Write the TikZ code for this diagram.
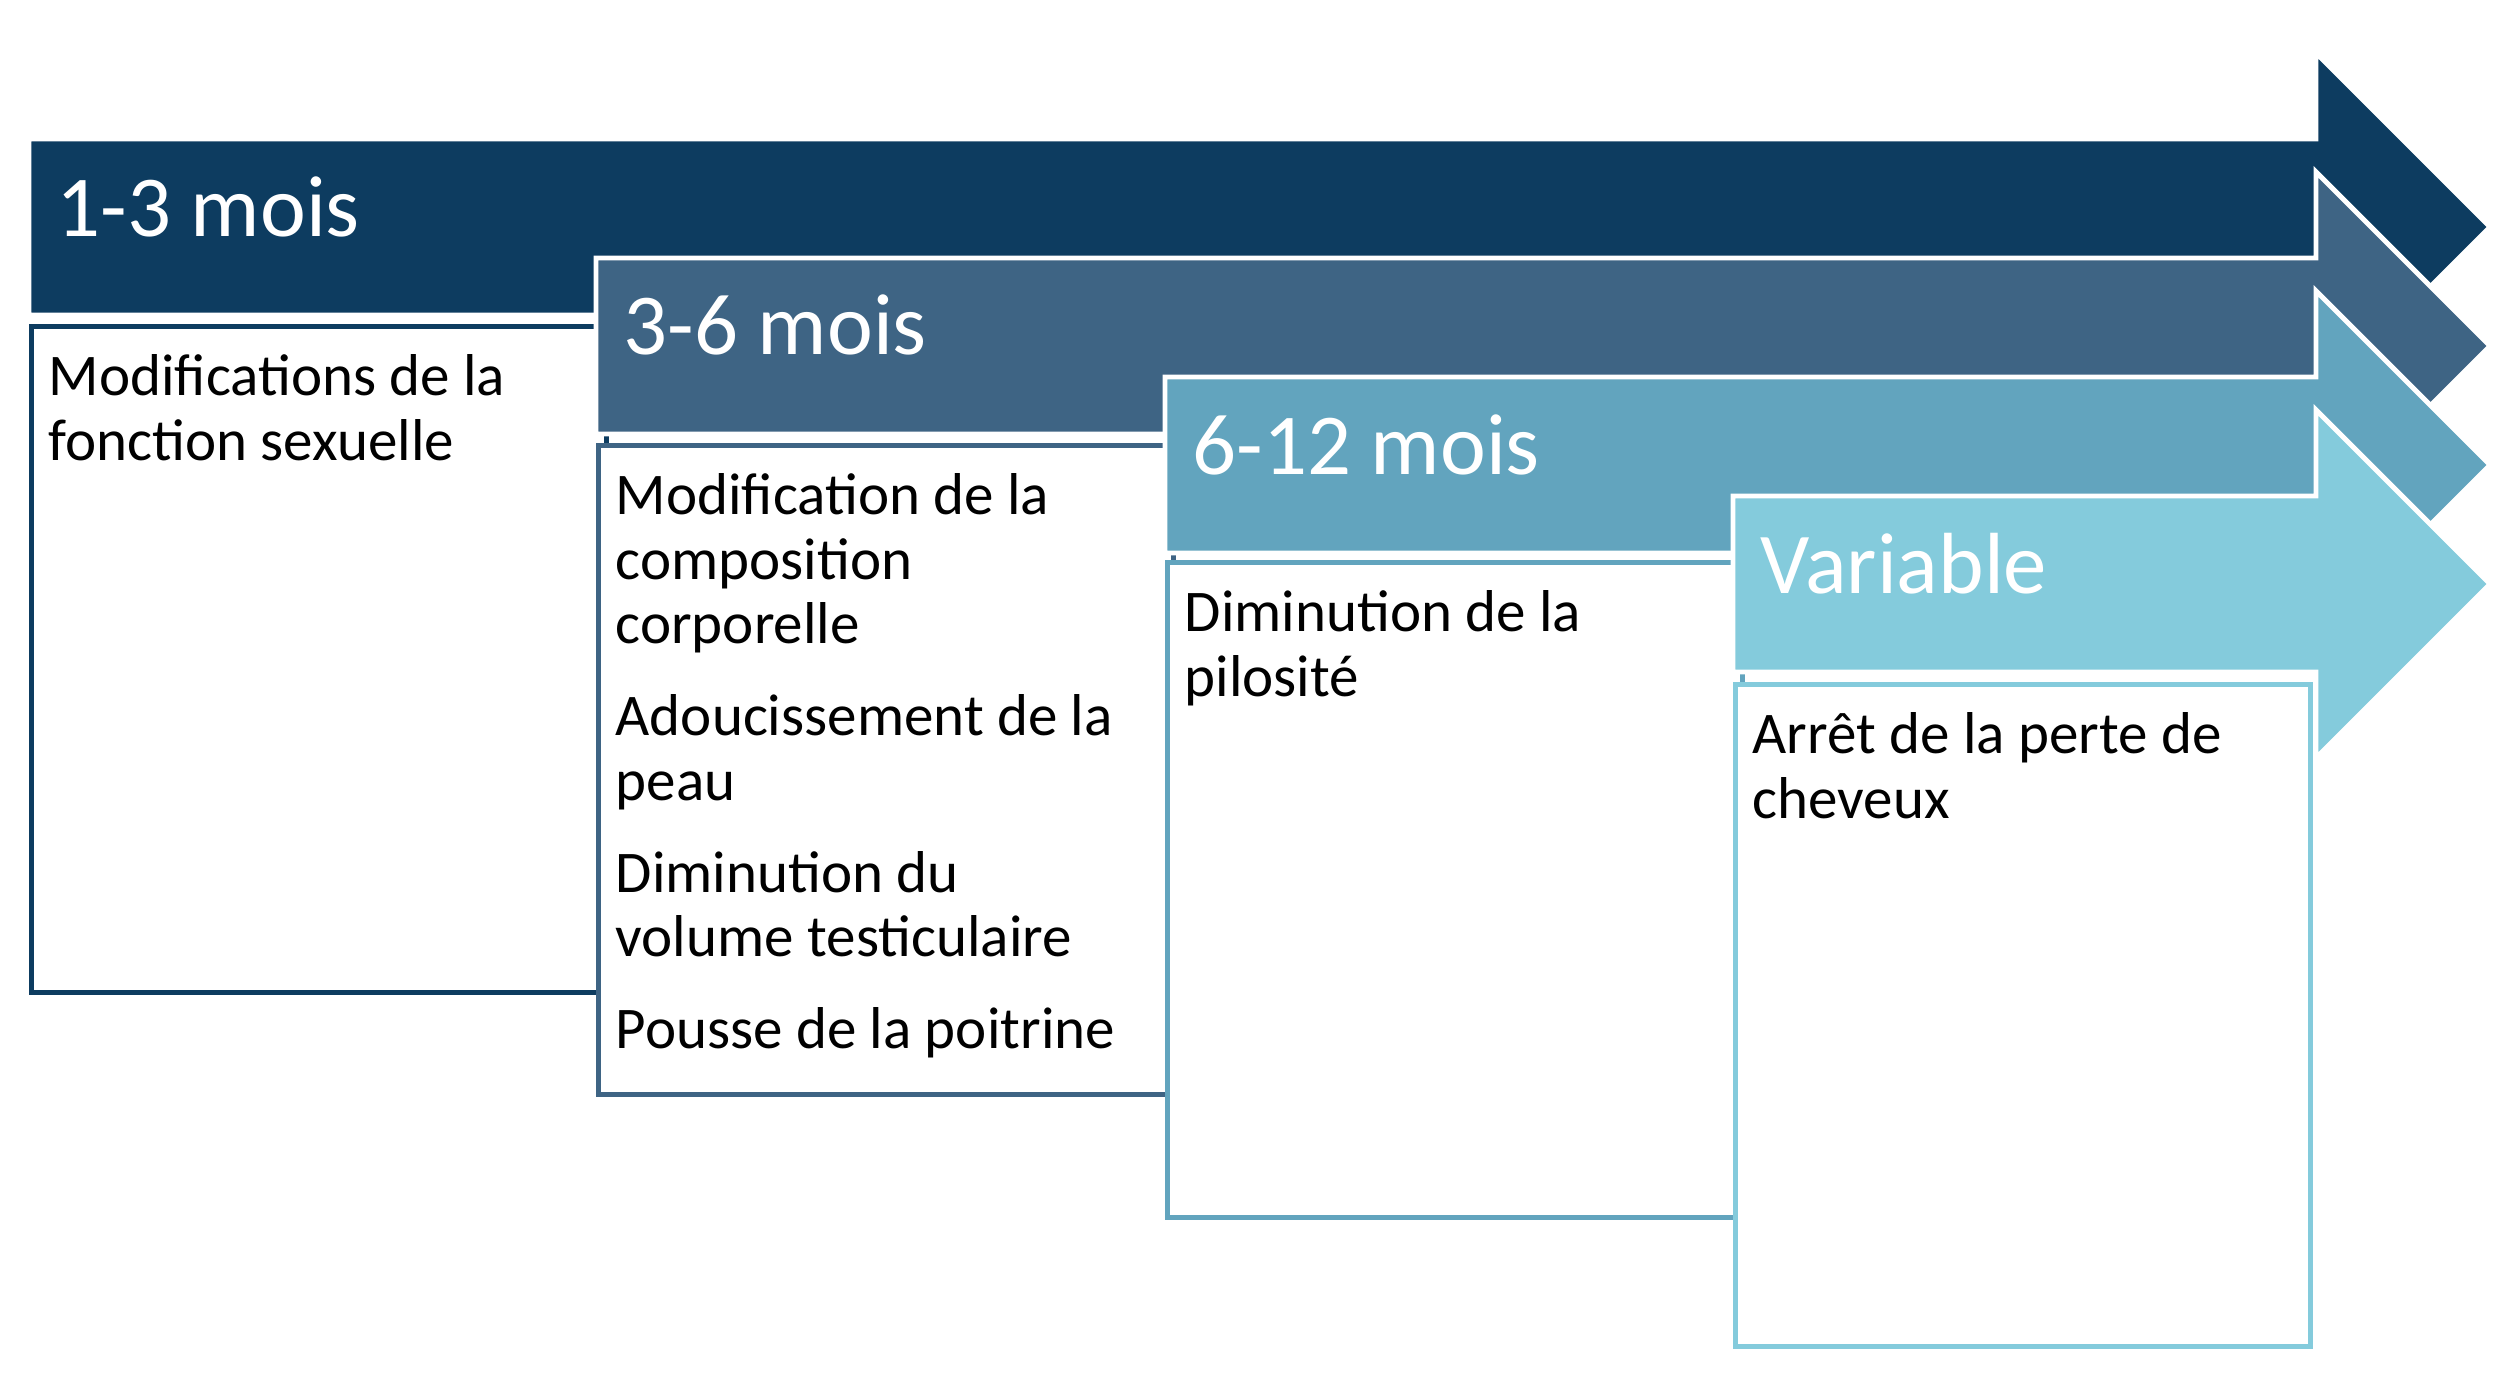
\documentclass[tikz,border=0pt]{standalone}
\usepackage{fontspec}
\setmainfont{Carlito}
\usetikzlibrary{positioning}
\definecolor{stage1}{HTML}{0D3C60}
\definecolor{stage2}{HTML}{3E6484}
\definecolor{stage3}{HTML}{62A4BE}
\definecolor{stage4}{HTML}{84CBDC}
\newcommand{\lines}[1]{\begin{tabular}[t]{@{}l@{}}#1\end{tabular}}

\begin{document}
\begin{tikzpicture}[x=1cm,y=1cm,
        band/.style={fill=#1,draw=white,line width=1.4pt},
        box/.style={draw=#1,fill=white,line width=1.5pt,minimum width=5.75cm,anchor=north west,inner sep=0pt},
        period/.style={text=white,font=\fontsize{24.7}{29}\selectfont,anchor=base west,inner sep=0pt},
        effect/.style={font=\fontsize{16.8}{18.35}\selectfont,anchor=base west,inner sep=0pt}]
        \useasboundingbox (0,0) rectangle (24.99,13.89);

        % 1-3 mois
        \path[band=stage1] (0.29,12.50) -- (23.16,12.50) -- (23.16,13.36) -- (24.90,11.62)
            -- (23.16,9.88) -- (23.16,10.74) -- (0.29,10.74) -- cycle;
        \node[period] (p_1) at (0.56,11.52) {1-3 mois};
        \node[box=stage1,minimum height=6.66cm] (box_1) at (0.29,10.65) {};
        \node[effect] (t_1) at ([shift={(0.19,-0.72)}]box_1.north west)
            {\lines{Modifications de la\\fonction sexuelle}};

        % 3-6 mois
        \path[band=stage2] (5.96,11.31) -- (23.16,11.31) -- (23.16,12.17) -- (24.90,10.43)
            -- (23.16,8.69) -- (23.16,9.55) -- (5.96,9.55) -- cycle;
        \node[period] (p_2) at (6.23,10.34) {3-6 mois};
        \node[box=stage2,minimum height=6.49cm] (box_2) at (5.96,9.46) {};
        \node[effect] (t_2) at ([shift={(0.19,-0.72)}]box_2.north west)
            {\lines{Modification de la\\composition\\corporelle\\[7.8pt]
             Adoucissement de la\\peau\\[7.8pt]
             Diminution du\\volume testiculaire\\[7.8pt]
             Pousse de la poitrine}};

        % 6-12 mois
        \path[band=stage3] (11.65,10.12) -- (23.16,10.12) -- (23.16,10.98) -- (24.90,9.24)
            -- (23.16,7.50) -- (23.16,8.36) -- (11.65,8.36) -- cycle;
        \node[period] (p_3) at (11.92,9.14) {6-12 mois};
        \node[box=stage3,minimum height=6.55cm] (box_3) at (11.65,8.29) {};
        \node[effect] (t_3) at ([shift={(0.19,-0.72)}]box_3.north west)
            {\lines{Diminution de la\\pilosité}};

        % variable
        \path[band=stage4] (17.33,8.93) -- (23.16,8.93) -- (23.16,9.79) -- (24.90,8.05)
            -- (23.16,6.31) -- (23.16,7.17) -- (17.33,7.17) -- cycle;
        \node[period] (p_4) at (17.60,7.95) {Variable};
        \node[box=stage4,minimum height=6.62cm] (box_4) at (17.33,7.07) {};
        \node[effect] (t_4) at ([shift={(0.19,-0.72)}]box_4.north west)
            {\lines{Arrêt de la perte de\\cheveux}};
\end{tikzpicture}
\end{document}
